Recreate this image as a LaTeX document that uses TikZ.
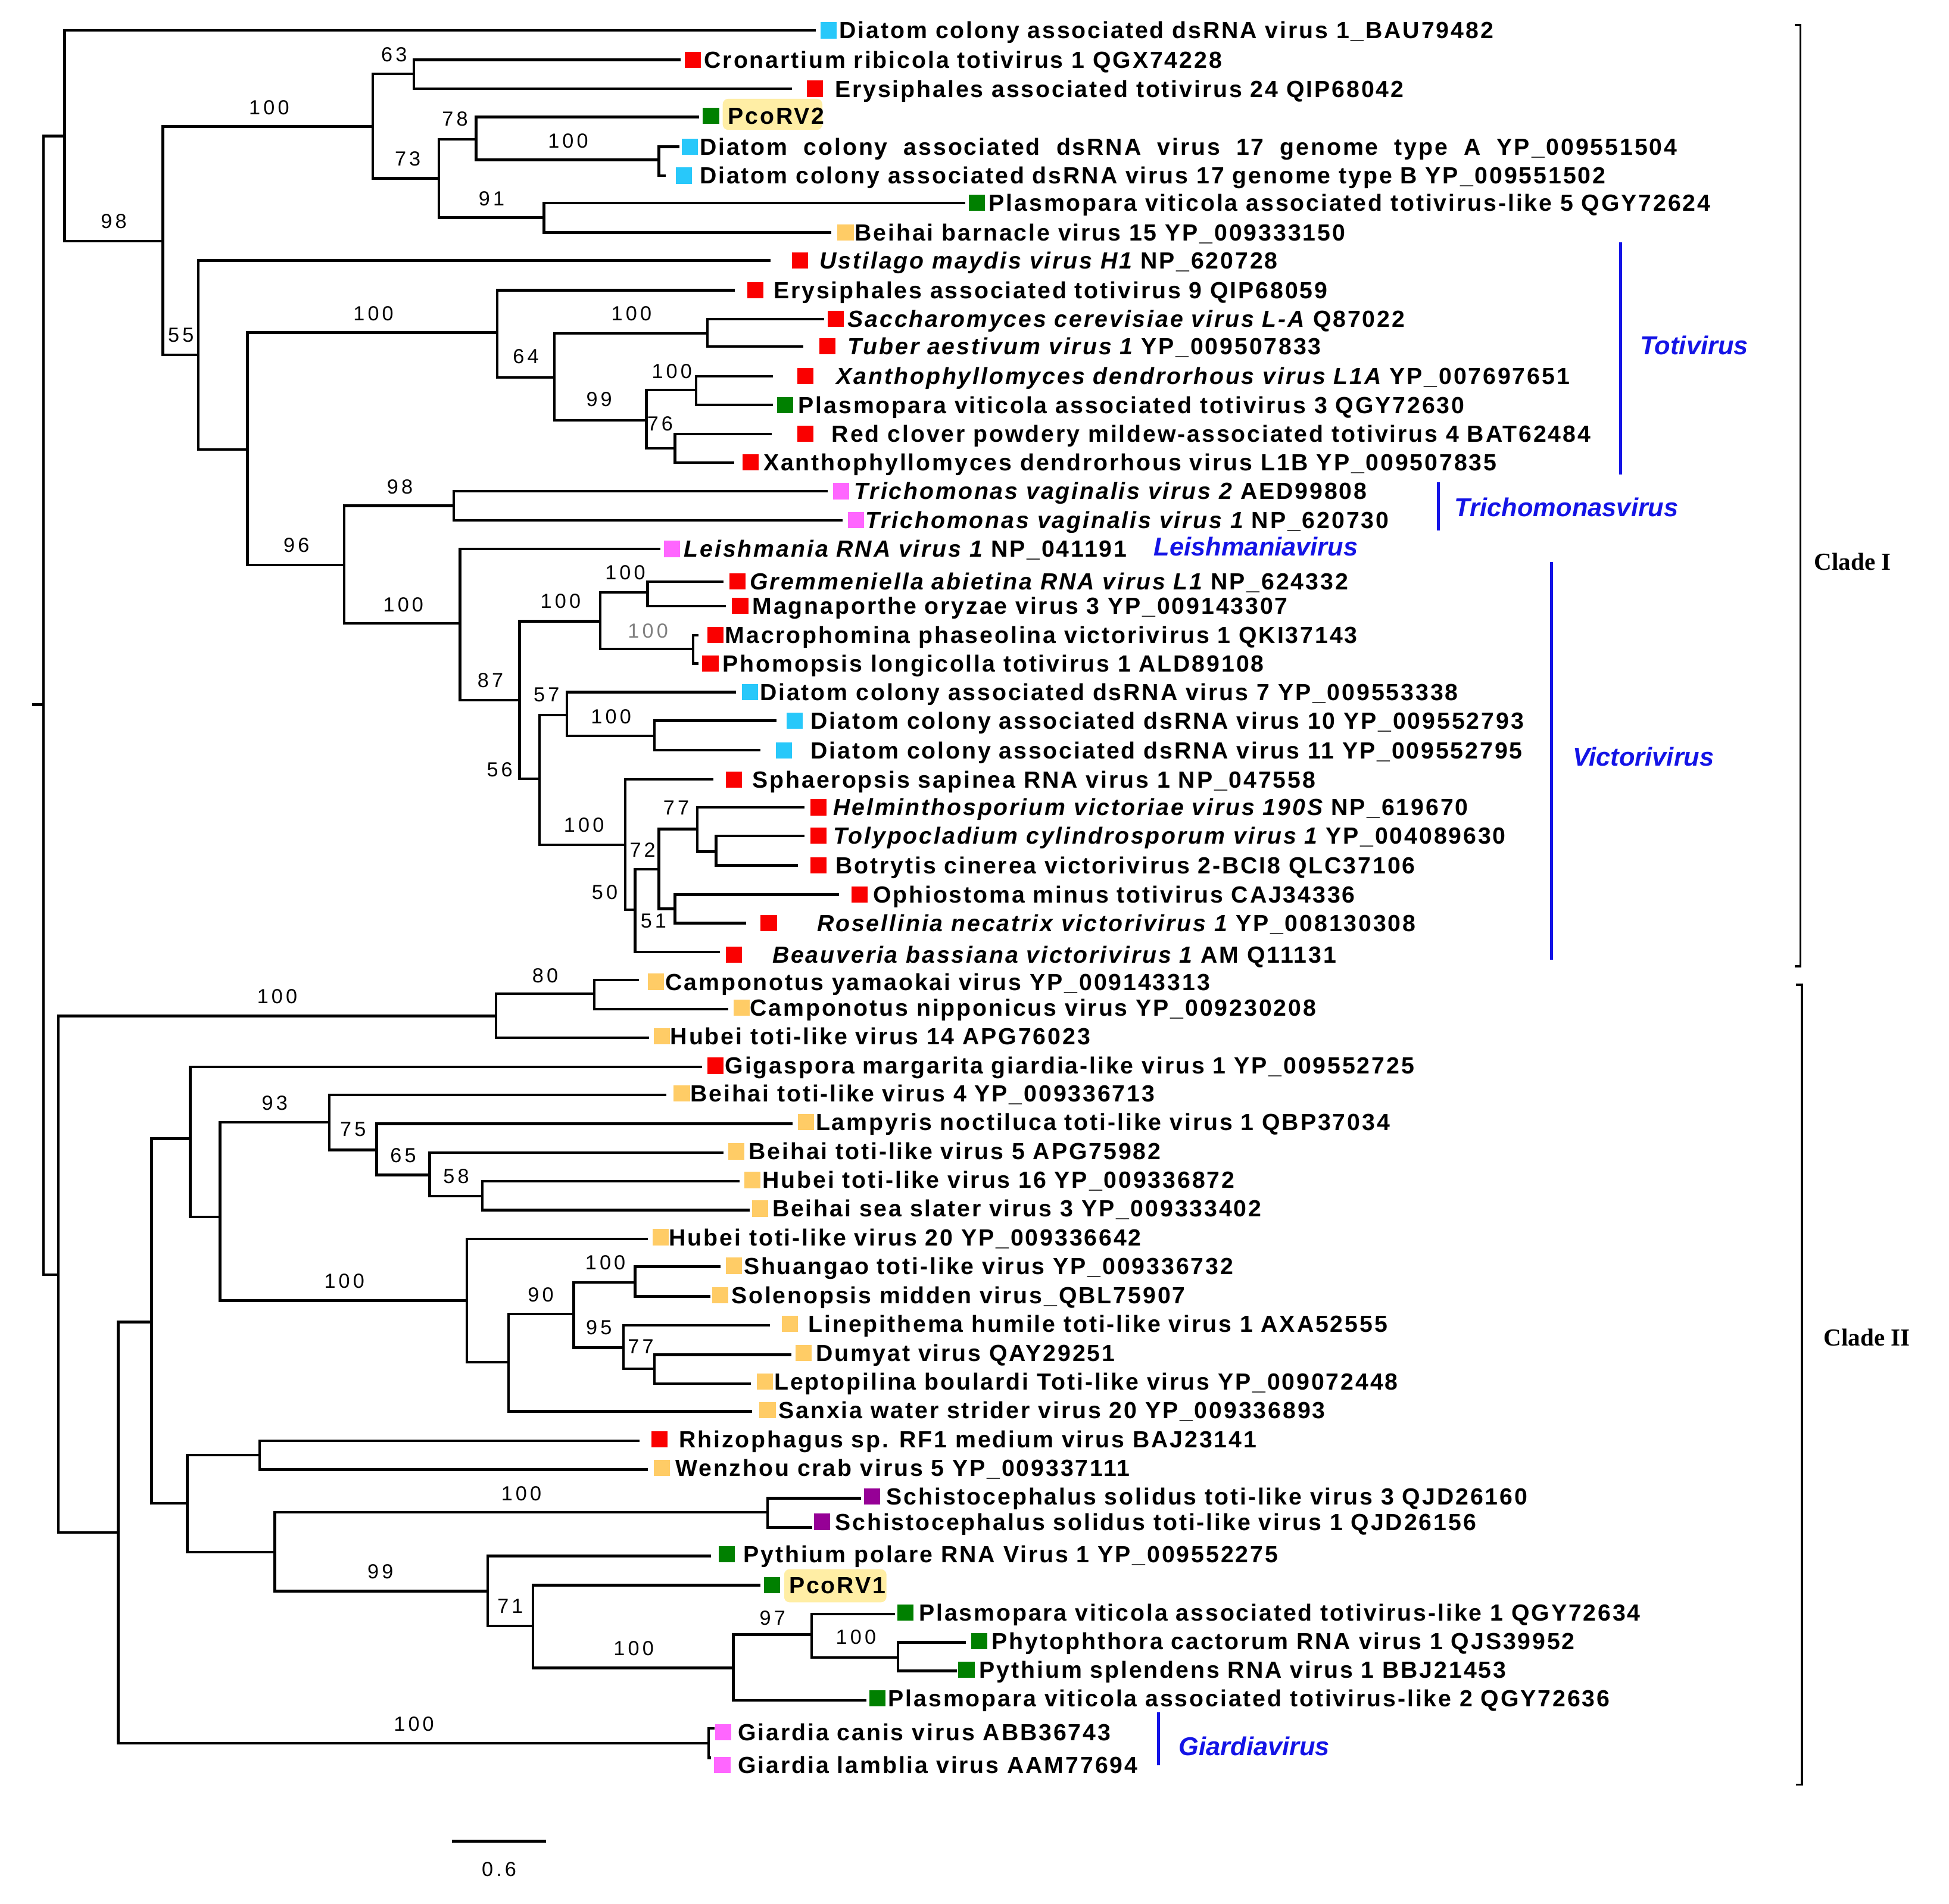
\documentclass[tikz,border=0pt]{standalone}
\usepackage{fontspec}
\setmainfont{Liberation Sans}
\newfontfamily\labfont{Liberation Sans}[LetterSpace=7.4]
\newfontfamily\numfont{Liberation Sans}[LetterSpace=15]
\newfontfamily\cladefont{Liberation Serif}
\definecolor{mcyan}{RGB}{40,200,250}
\definecolor{mred}{RGB}{250,0,0}
\definecolor{mgreen}{RGB}{0,128,0}
\definecolor{myel}{RGB}{255,204,102}
\definecolor{mpink}{RGB}{255,102,255}
\definecolor{mpurp}{RGB}{150,0,150}
\definecolor{gblue}{RGB}{20,20,230}
\definecolor{hly}{RGB}{255,238,165}
\tikzset{
 br/.style={line width=1.2pt, line cap=rect, line join=miter},
 mk/.style={inner sep=0pt, minimum width=0.26cm, minimum height=0.26cm, draw=none},
 lab/.style={anchor=base west, inner sep=0pt, font=\labfont\bfseries\fontsize{10.7}{12}\selectfont},
 bs/.style={inner sep=0pt, font=\numfont\fontsize{9.33}{10}\selectfont},
 genus/.style={inner sep=0pt, anchor=west, text=gblue, font=\bfseries\itshape\fontsize{11.84}{13}\selectfont},
 gbar/.style={draw=gblue, line width=1.4pt},
 clade/.style={inner sep=0pt, font=\cladefont\bfseries\fontsize{11.2}{13}\selectfont},
 brk/.style={line width=1pt},
 hlbox/.style={fill=hly, rounded corners=0.09cm, inner sep=0pt, draw=none}
}
% #1 name, #2 parent, #3 tip x, #4 line y, #5 marker left x, #6 colour, #7 label y, #8 text x, #9 text
\newcommand\LeafX[9]{%
  \coordinate (#1) at (#3,#4);
  \draw[br] (#2) |- (#1);
  \node[mk, fill=#6] (#1m) at ({#5+6.5},#7) {};
  \node[lab] (#1t) at (#8,{#7+6.7}) {#9};
}
\begin{document}
\begin{tikzpicture}[x=0.02cm,y=-0.02cm]
\useasboundingbox (0,0) rectangle (1568,1532);
% ---------- internal nodes ----------
\coordinate (R) at (35,567);
\coordinate (Rs) at (27,567);
\coordinate (C1) at (52,109.5);
\coordinate (n98) at (131,193.9);
\coordinate (n100a) at (300,101.8);
\coordinate (n63) at (333,59.5);
\coordinate (n73) at (353,143.4);
\coordinate (n78) at (383,112);
\coordinate (n100b) at (530,128.7);
\coordinate (n91) at (437.6,175);
\coordinate (n55) at (159.5,285.5);
\coordinate (na) at (199,361.6);
\coordinate (n100c) at (400,267.5);
\coordinate (n64) at (446,303.6);
\coordinate (n100d) at (569,268.4);
\coordinate (n99) at (520,338.2);
\coordinate (n100e) at (560,313.9);
\coordinate (n76) at (543,360.8);
\coordinate (n96) at (277,454.5);
\coordinate (n98b) at (365,407);
\coordinate (n100f) at (370,501.6);
\coordinate (n87) at (418,563.4);
\coordinate (n100g) at (483,499.9);
\coordinate (n100h) at (521,476.8);
\coordinate (n100i) at (557.6,522.1);
\coordinate (n56) at (434,626.6);
\coordinate (n57) at (456,575.3);
\coordinate (n100j) at (526.5,592.2);
\coordinate (n100k) at (503,679.8);
\coordinate (n50) at (511,732.1);
\coordinate (n72) at (530,699.4);
\coordinate (n77) at (561,667);
\coordinate (nb) at (576,685.3);
\coordinate (n51) at (543,731.2);
\coordinate (C2) at (47,1025.8);
\coordinate (n100l) at (399,817.6);
\coordinate (n80) at (478,799.6);
\coordinate (nc) at (95,1233.1);
\coordinate (nd) at (122,1063.7);
\coordinate (ne) at (153,916.3);
\coordinate (nf) at (177,979.3);
\coordinate (n93) at (265,903);
\coordinate (n75) at (303,925.4);
\coordinate (n65) at (345.6,945.4);
\coordinate (n58) at (388,962.5);
\coordinate (n100m) at (375.7,1046.6);
\coordinate (ng) at (409,1096.2);
\coordinate (n90) at (461.5,1057.4);
\coordinate (n100n) at (511,1032);
\coordinate (n95) at (501.5,1084.3);
\coordinate (n77b) at (526.5,1101.4);
\coordinate (nh) at (150.7,1209.7);
\coordinate (ni) at (209,1170.7);
\coordinate (nj) at (221,1249);
\coordinate (n100o) at (617.4,1216.9);
\coordinate (n99b) at (392.4,1280.3);
\coordinate (n71) at (428.7,1308.4);
\coordinate (n100p) at (590,1342.1);
\coordinate (n97) at (653,1315.2);
\coordinate (n100q) at (722.4,1333.6);
\coordinate (n100r) at (570,1402.8);
% ---------- internal edges ----------
\draw[br] (Rs) -- (R);
\foreach \p/\c in {R/C1,R/C2,C1/n98,n98/n100a,n98/n55,n100a/n63,n100a/n73,n73/n78,n73/n91,n78/n100b,
  n55/na,na/n100c,na/n96,n100c/n64,n64/n100d,n64/n99,n99/n100e,n99/n76,n96/n98b,n96/n100f,n100f/n87,
  n87/n100g,n87/n56,n100g/n100h,n100g/n100i,n56/n57,n56/n100k,n57/n100j,n100k/n50,n50/n72,n72/n77,n72/n51,n77/nb,
  C2/n100l,C2/nc,n100l/n80,nc/nd,nc/n100r,nd/ne,nd/nh,ne/nf,nf/n93,nf/n100m,n93/n75,n75/n65,n65/n58,
  n100m/ng,ng/n90,n90/n100n,n90/n95,n95/n77b,nh/ni,nh/nj,nj/n100o,nj/n99b,n99b/n71,n71/n100p,n100p/n97,n97/n100q}
  {\draw[br] (\p) |- (\c);}
% ---------- highlights ----------
\node[hlbox, minimum width=1.604cm, minimum height=0.502cm] (hl2) at (621.5,92) {};
\node[hlbox, minimum width=1.648cm, minimum height=0.534cm] (hl1) at (672,1276) {};
% ---------- leaves ----------
\LeafX{L1}{C1}{655.5}{24.4}{660.3}{mcyan}{24.4}{675}{Diatom colony associated dsRNA virus 1\_BAU79482}
\LeafX{L2}{n63}{546.7}{48.2}{550.8}{mred}{48.2}{566.2}{Cronartium ribicola totivirus 1 QGX74228}
\LeafX{L3}{n63}{635.9}{71.4}{649.3}{mred}{71.4}{671.4}{Erysiphales associated totivirus 24 QIP68042}
\LeafX{L4}{n78}{561.3}{94.1}{565.5}{mgreen}{93}{585.3}{PcoRV2}
\LeafX{L5}{n100b}{545.4}{118.1}{548.6}{mcyan}{118.1}{562.6}{\makebox[15.73cm][s]{Diatom colony associated dsRNA virus 17 genome type A YP\_009551504}}
\LeafX{L6}{n100b}{534.4}{141.3}{543.7}{mcyan}{141.3}{562.6}{Diatom colony associated dsRNA virus 17 genome type B YP\_009551502}
\LeafX{L7}{n91}{775.3}{163.3}{779.5}{mgreen}{163.3}{795.3}{Plasmopara viticola associated totivirus-like 5 QGY72624}
\LeafX{L8}{n91}{667.7}{187}{673.8}{myel}{187}{687.3}{Beihai barnacle virus 15 YP\_009333150}
\LeafX{L9}{n55}{618.8}{209.5}{637.1}{mred}{209.5}{659.1}{{\itshape Ustilago maydis virus H1} NP\_620728}
\LeafX{L10}{n100c}{590.2}{233.5}{601.2}{mred}{233.5}{622}{Erysiphales associated totivirus 9 QIP68059}
\LeafX{L11}{n100d}{662}{256.7}{666}{mred}{256.7}{681.6}{{\itshape Saccharomyces cerevisiae virus L-A} Q87022}
\LeafX{L12}{n100d}{645.2}{278.7}{659.1}{mred}{278.7}{681.6}{{\itshape Tuber aestivum virus 1} YP\_009507833}
\LeafX{L13}{n100e}{620.7}{302.7}{641.5}{mred}{302.7}{672.6}{{\itshape Xanthophyllomyces dendrorhous virus L1A} YP\_007697651}
\LeafX{L14}{n100e}{620.7}{325.9}{625}{mgreen}{325.9}{642}{Plasmopara viticola associated totivirus 3 QGY72630}
\LeafX{L15}{n76}{620}{349.1}{641.5}{mred}{349.1}{668.9}{Red clover powdery mildew-associated totivirus 4 BAT62484}
\LeafX{L16}{n76}{589.4}{372.1}{597.3}{mred}{372.1}{613.9}{Xanthophyllomyces dendrorhous virus L1B YP\_009507835}
\LeafX{L17}{n98b}{665}{395.2}{670}{mpink}{395.2}{687}{{\itshape Trichomonas vaginalis virus 2} AED99808}
\LeafX{L18}{n98b}{677}{418.6}{682}{mpink}{418.6}{696}{{\itshape Trichomonas vaginalis virus 1} NP\_620730}
\LeafX{L19}{n100f}{530}{441.7}{534}{mpink}{441.7}{550}{{\itshape Leishmania RNA virus 1} NP\_041191}
\LeafX{L20}{n100h}{581}{468}{587}{mred}{468}{603}{{\itshape Gremmeniella abietina RNA virus L1} NP\_624332}
\LeafX{L21}{n100h}{583}{487.6}{589}{mred}{487.6}{605}{Magnaporthe oryzae virus 3 YP\_009143307}
\LeafX{L22}{n100i}{561}{511.1}{569}{mred}{511.1}{583}{Macrophomina phaseolina victorivirus 1 QKI37143}
\LeafX{L23}{n100i}{561}{534}{565}{mred}{534}{581}{Phomopsis longicolla totivirus 1 ALD89108}
\LeafX{L24}{n57}{591}{557}{597}{mcyan}{557}{611}{Diatom colony associated dsRNA virus 7 YP\_009553338}
\LeafX{L25}{n100j}{623.6}{579.9}{633}{mcyan}{579.9}{652}{Diatom colony associated dsRNA virus 10 YP\_009552793}
\LeafX{L26}{n100j}{610.6}{603.7}{624}{mcyan}{603.7}{652}{Diatom colony associated dsRNA virus 11 YP\_009552795}
\LeafX{L27}{n100k}{573}{627.2}{584}{mred}{627.2}{605}{Sphaeropsis sapinea RNA virus 1 NP\_047558}
\LeafX{L28}{n77}{646}{649.6}{652}{mred}{649.6}{670}{{\itshape Helminthosporium victoriae virus 190S} NP\_619670}
\LeafX{L29}{nb}{646}{672.5}{652}{mred}{672.5}{670}{{\itshape Tolypocladium cylindrosporum virus 1} YP\_004089630}
\LeafX{L30}{nb}{641}{696.3}{652}{mred}{696.3}{672}{Botrytis cinerea victorivirus 2-BCI8 QLC37106}
\LeafX{L31}{n51}{674}{719.8}{685}{mred}{719.8}{702}{Ophiostoma minus totivirus CAJ34336}
\LeafX{L32}{n51}{599}{742.7}{612}{mred}{742.7}{657}{{\itshape Rosellinia necatrix victorivirus 1} YP\_008130308}
\LeafX{L33}{n50}{578}{766}{584}{mred}{768}{621}{{\itshape Beauveria bassiana victorivirus 1} AM Q11131}
\LeafX{L34}{n80}{513}{788.5}{521}{myel}{790}{535}{Camponotus yamaokai virus YP\_009143313}
\LeafX{L35}{n80}{585}{812}{590}{myel}{811}{603}{Camponotus nipponicus virus YP\_009230208}
\LeafX{L36}{n100l}{521}{835}{526}{myel}{834}{539}{Hubei toti-like virus 14 APG76023}
\LeafX{L37}{ne}{564}{858.5}{569}{mred}{857.5}{583}{Gigaspora margarita giardia-like virus 1 YP\_009552725}
\LeafX{L38}{n93}{535}{880.9}{542}{myel}{880}{555}{Beihai toti-like virus 4 YP\_009336713}
\LeafX{L39}{n75}{636.6}{904.3}{642}{myel}{903}{656}{Lampyris noctiluca toti-like virus 1 QBP37034}
\LeafX{L40}{n65}{581}{927.4}{586}{myel}{926.5}{602}{Beihai toti-like virus 5 APG75982}
\LeafX{L41}{n58}{594}{950.6}{599}{myel}{949.5}{613}{Hubei toti-like virus 16 YP\_009336872}
\LeafX{L42}{n58}{602}{973.6}{605}{myel}{972.5}{621}{Beihai sea slater virus 3 YP\_009333402}
\LeafX{L43}{n100m}{520}{996.8}{525}{myel}{995.5}{538}{Hubei toti-like virus 20 YP\_009336642}
\LeafX{L44}{n100n}{578.4}{1019.3}{584}{myel}{1018.5}{598}{Shuangao toti-like virus YP\_009336732}
\LeafX{L45}{n100n}{570.6}{1043.2}{573}{myel}{1042}{588}{Solenopsis midden virus\_QBL75907}
\LeafX{L46}{n95}{618.4}{1066.3}{629}{myel}{1065}{650}{Linepithema humile toti-like virus 1 AXA52555}
\LeafX{L47}{n77b}{635.6}{1090.2}{640}{myel}{1088.5}{656}{Dumyat virus QAY29251}
\LeafX{L48}{n77b}{603}{1113.3}{609}{myel}{1111.5}{622.6}{Leptopilina boulardi Toti-like virus YP\_009072448}
\LeafX{L49}{ng}{604}{1135.6}{611}{myel}{1134.5}{626}{Sanxia water strider virus 20 YP\_009336893}
\LeafX{L50}{ni}{513.5}{1159.2}{524}{mred}{1158}{546}{Rhizophagus sp. RF1 medium virus BAJ23141}
\LeafX{L51}{ni}{520}{1182.6}{526}{myel}{1181}{543}{Wenzhou crab virus 5 YP\_009337111}
\LeafX{L52}{n100o}{691.8}{1205.6}{695}{mpurp}{1204}{712.8}{Schistocephalus solidus toti-like virus 3 QJD26160}
\LeafX{L53}{n100o}{652.2}{1229.1}{655}{mpurp}{1224.5}{671.5}{Schistocephalus solidus toti-like virus 1 QJD26156}
\LeafX{L54}{n99b}{571}{1252}{578.4}{mgreen}{1250.5}{597.7}{Pythium polare RNA Virus 1 YP\_009552275}
\LeafX{L55}{n71}{610.5}{1275.5}{614.4}{mgreen}{1275.5}{634.5}{PcoRV1}
\LeafX{L56}{n97}{719.2}{1298.6}{721.8}{mgreen}{1297.5}{738.9}{Plasmopara viticola associated totivirus-like 1 QGY72634}
\LeafX{L57}{n100q}{775.9}{1321.5}{781.2}{mgreen}{1320.5}{797.7}{Phytophthora cactorum RNA virus 1 QJS39952}
\LeafX{L58}{n100q}{768.8}{1344.4}{771}{mgreen}{1343.5}{787.6}{Pythium splendens RNA virus 1 BBJ21453}
\LeafX{L59}{n100p}{696.1}{1368.1}{699.3}{mgreen}{1366.5}{714.3}{Plasmopara viticola associated totivirus-like 2 QGY72636}
\LeafX{L60}{n100r}{574}{1390.6}{575.2}{mpink}{1394}{593.4}{Giardia canis virus ABB36743}
\LeafX{L61}{n100r}{571}{1414.5}{574.6}{mpink}{1420}{593.4}{Giardia lamblia virus AAM77694}
% ---------- bootstrap values ----------
\node[bs] (b1) at (317,44) {63};
\node[bs] (b2) at (216.5,86.4) {100};
\node[bs] (b3) at (366,95.8) {78};
\node[bs] (b4) at (457,113.4) {100};
\node[bs] (b5) at (328,128) {73};
\node[bs] (b6) at (395.5,160) {91};
\node[bs] (b7) at (91.5,178) {98};
\node[bs] (b8) at (145.5,269.7) {55};
\node[bs] (b9) at (300.4,252.4) {100};
\node[bs] (b10) at (508,252.4) {100};
\node[bs] (b11) at (423,287) {64};
\node[bs] (b12) at (540.5,299) {100};
\node[bs] (b13) at (482,321.3) {99};
\node[bs] (b14) at (531,341) {76};
\node[bs] (b15) at (321.7,391.6) {98};
\node[bs] (b16) at (238.5,438.8) {96};
\node[bs] (b17) at (324.5,486.5) {100};
\node[bs] (b18) at (451,483.6) {100};
\node[bs] (b19) at (503,460.5) {100};
\node[bs, text=gray] (b20) at (521.3,507.5) {100};
\node[bs] (b21) at (394.5,547.3) {87};
\node[bs] (b22) at (439.7,558.8) {57};
\node[bs] (b23) at (491.6,576.5) {100};
\node[bs] (b24) at (402,619.4) {56};
\node[bs] (b25) at (469.8,663.8) {100};
\node[bs] (b26) at (544,650) {77};
\node[bs] (b27) at (517,684) {72};
\node[bs] (b28) at (486.5,717.8) {50};
\node[bs] (b29) at (525.7,741.2) {51};
\node[bs] (b30) at (438.6,785) {80};
\node[bs] (b31) at (223,802) {100};
\node[bs] (b32) at (221,887.6) {93};
\node[bs] (b33) at (284,908.6) {75};
\node[bs] (b34) at (324.3,929.5) {65};
\node[bs] (b35) at (367,946.7) {58};
\node[bs] (b36) at (277,1030.8) {100};
\node[bs] (b37) at (487,1016) {100};
\node[bs] (b38) at (435,1042) {90};
\node[bs] (b39) at (481.8,1068) {95};
\node[bs] (b40) at (515.5,1083.4) {77};
\node[bs] (b41) at (419.4,1201.9) {100};
\node[bs] (b42) at (306,1264.8) {99};
\node[bs] (b43) at (410.5,1292.3) {71};
\node[bs] (b44) at (509.8,1326.3) {100};
\node[bs] (b45) at (621.5,1302) {97};
\node[bs] (b46) at (688.6,1317.4) {100};
\node[bs] (b47) at (333,1387) {100};
% ---------- genus bars and labels ----------
\coordinate (tv1) at (1303.8,195); \coordinate (tv2) at (1303.8,382);
\draw[gbar] (tv1) -- (tv2);
\node[genus] (gTot) at (1319,278) {Totivirus};
\coordinate (tr1) at (1157,388); \coordinate (tr2) at (1157,427);
\draw[gbar] (tr1) -- (tr2);
\node[genus] (gTri) at (1170,408) {Trichomonasvirus};
\node[genus] (gLei) at (928,440) {Leishmaniavirus};
\coordinate (vi1) at (1248,452); \coordinate (vi2) at (1248,772.4);
\draw[gbar] (vi1) -- (vi2);
\node[genus] (gVic) at (1265,609) {Victorivirus};
\coordinate (gi1) at (932,1377.8); \coordinate (gi2) at (932,1420.3);
\draw[gbar] (gi1) -- (gi2);
\node[genus] (gGia) at (948,1405) {Giardiavirus};
% ---------- clade brackets ----------
\coordinate (k1a) at (1444,20); \coordinate (k1b) at (1448.5,20);
\coordinate (k1c) at (1448.5,777.5); \coordinate (k1d) at (1444,777.5);
\draw[brk] (k1a) -- (k1b) -- (k1c) -- (k1d);
\node[clade] (cI) at (1490.5,452) {Clade I};
\coordinate (k2a) at (1445,792.5); \coordinate (k2b) at (1449.6,792.5);
\coordinate (k2c) at (1449.6,1436); \coordinate (k2d) at (1445,1436);
\draw[brk] (k2a) -- (k2b) -- (k2c) -- (k2d);
\node[clade] (cII) at (1502,1076.4) {Clade II};
% ---------- scale bar ----------
\coordinate (s1) at (363.8,1481.7); \coordinate (s2) at (439.1,1481.7);
\draw[line width=1.4pt] (s1) -- (s2);
\node[bs] (sc) at (401.5,1504) {0.6};
\end{tikzpicture}
\end{document}
